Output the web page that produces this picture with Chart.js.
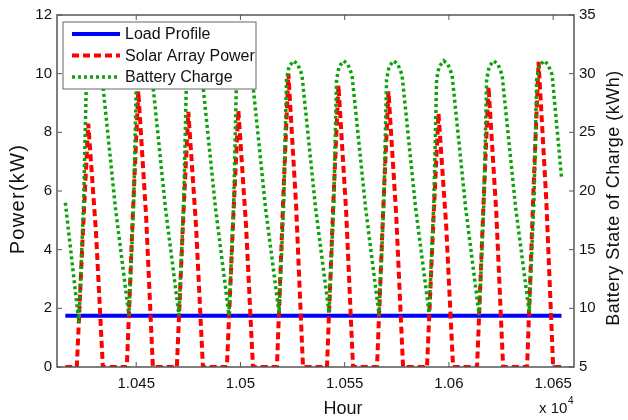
<!DOCTYPE html>
<html>
<head>
<meta charset="utf-8">
<script src="https://cdn.jsdelivr.net/npm/chart.js@4.4.1/dist/chart.umd.min.js"></script>
<style>
  html, body { margin: 0; padding: 0; background: #fff; }
  canvas { display: block; }
</style>
</head>
<body>
<canvas id="grafico" width="628" height="420"></canvas>
<script>
// dados (hora, kW / kWh)
const loadHours = [10416, 10654];
const loadKW = [1.75, 1.75];

const solarHours = [10416,
  10421.5, 10424.5, 10427, 10430.7, 10434,
  10445.5, 10448.5, 10451, 10454.7, 10458,
  10469.5, 10472.5, 10475, 10478.7, 10482,
  10493.5, 10496.5, 10499, 10502.7, 10506,
  10517.5, 10520.5, 10523, 10526.7, 10530,
  10541.5, 10544.5, 10547, 10550.7, 10554,
  10565.5, 10568.5, 10571, 10574.7, 10578,
  10589.5, 10592.5, 10595, 10598.7, 10602,
  10613.5, 10616.5, 10619, 10622.7, 10626,
  10637.5, 10640.5, 10643, 10646.7, 10650,
  10654];
const solarKW = [0,
  0, 4.7, 8.3, 4.6, 0,
  0, 5.4, 9.4, 5.2, 0,
  0, 5.0, 8.7, 4.8, 0,
  0, 5.0, 8.75, 4.8, 0,
  0, 5.7, 10.0, 5.5, 0,
  0, 5.5, 9.6, 5.3, 0,
  0, 5.4, 9.4, 5.2, 0,
  0, 4.9, 8.65, 4.8, 0,
  0, 5.4, 9.55, 5.3, 0,
  0, 5.9, 10.4, 5.7, 0,
  0];

const batteryHours = [10416,
  10422.5, 10424.8, 10426.1, 10427.3, 10429.5, 10431.5, 10433.5, 10440,
  10446.5, 10448.8, 10450.1, 10451.3, 10453.5, 10455.5, 10457.5, 10464,
  10470.5, 10472.8, 10474.1, 10475.3, 10477.5, 10479.5, 10481.5, 10488,
  10494.5, 10496.8, 10498.1, 10499.3, 10501.5, 10503.5, 10505.5, 10512,
  10518.5, 10520.8, 10522.1, 10523.3, 10525.5, 10527.5, 10529.5, 10536,
  10542.5, 10544.8, 10546.1, 10547.3, 10549.5, 10551.5, 10553.5, 10560,
  10566.5, 10568.8, 10570.1, 10571.3, 10573.5, 10575.5, 10577.5, 10584,
  10590.5, 10592.8, 10594.1, 10595.3, 10597.5, 10599.5, 10601.5, 10608,
  10614.5, 10616.8, 10618.1, 10619.3, 10621.5, 10623.5, 10625.5, 10632,
  10638.5, 10640.8, 10642.1, 10643.3, 10645.5, 10647.5, 10649.5, 10654];
const batteryKWh = [19.0,
  8.8, 19.2, 29.5, 30.6, 31.1, 30.8, 29.9, 18.6,
  9.4, 19.2, 29.5, 30.6, 31.1, 30.8, 29.9, 18.6,
  9.4, 19.2, 29.5, 30.6, 31.1, 30.8, 29.9, 18.6,
  9.4, 19.2, 29.5, 30.6, 31.1, 30.8, 29.9, 18.6,
  9.6, 19.2, 29.5, 30.6, 31.1, 30.8, 29.9, 18.6,
  9.6, 19.2, 29.5, 30.6, 31.1, 30.8, 29.9, 18.6,
  9.4, 19.2, 29.5, 30.6, 31.1, 30.8, 29.9, 18.6,
  9.6, 19.2, 29.5, 30.6, 31.1, 30.8, 29.9, 18.6,
  9.4, 19.2, 29.5, 30.6, 31.1, 30.8, 29.9, 18.6,
  9.7, 19.2, 29.5, 30.6, 31.1, 30.8, 29.9, 21.2];

const xTickValues = [10450, 10500, 10550, 10600, 10650];
const xTickLabels = ['1.045', '1.05', '1.055', '1.06', '1.065'];

const seriesNames = ['Load Profile', 'Solar Array Power', 'Battery Charge'];
const cores = ['#0000ff', '#ff0000', '#0aa30a'];

const fonte = "'Liberation Sans', Arial, Helvetica, sans-serif";
Chart.defaults.font.family = fonte;
Chart.defaults.color = '#111';

function pontos(xs, ys) {
    return xs.map((x, i) => ({ x: x, y: ys[i] }));
}

// moldura, ticks para dentro, legenda e títulos
const extras = {
    id: 'extras',
    afterDatasetsDraw(chart) {
        const ctx = chart.ctx;
        const a = chart.chartArea;
        const sx = chart.scales.x, sy = chart.scales.y, sy1 = chart.scales.y1;
        ctx.save();
        ctx.strokeStyle = '#555';
        ctx.lineWidth = 1.5;
        ctx.strokeRect(a.left, a.top, a.right - a.left, a.bottom - a.top);

        ctx.lineWidth = 1;
        ctx.beginPath();
        sx.ticks.forEach(t => {
            const px = sx.getPixelForValue(t.value);
            ctx.moveTo(px, a.bottom); ctx.lineTo(px, a.bottom - 5);
            ctx.moveTo(px, a.top); ctx.lineTo(px, a.top + 5);
        });
        sy.ticks.forEach(t => {
            const py = sy.getPixelForValue(t.value);
            ctx.moveTo(a.left, py); ctx.lineTo(a.left + 5, py);
        });
        sy1.ticks.forEach(t => {
            const py = sy1.getPixelForValue(t.value);
            ctx.moveTo(a.right, py); ctx.lineTo(a.right - 5, py);
        });
        ctx.stroke();

        // legenda
        const lx = a.left + 6, ly = a.top + 7, lw = 193, lh = 67;
        ctx.fillStyle = '#fff';
        ctx.fillRect(lx, ly, lw, lh);
        ctx.strokeStyle = '#666';
        ctx.strokeRect(lx, ly, lw, lh);
        const estilos = [
            { w: 4, dash: [] },
            { w: 4, dash: [7, 4] },
            { w: 3.5, dash: [3, 3] }
        ];
        seriesNames.forEach((nome, i) => {
            const y = ly + 12 + i * 21.5;
            ctx.beginPath();
            ctx.setLineDash(estilos[i].dash);
            ctx.lineWidth = estilos[i].w;
            ctx.strokeStyle = cores[i];
            ctx.moveTo(lx + 9, y); ctx.lineTo(lx + 57, y);
            ctx.stroke();
            ctx.setLineDash([]);
            ctx.fillStyle = '#111';
            ctx.font = '16px ' + fonte;
            ctx.textAlign = 'left';
            ctx.textBaseline = 'middle';
            ctx.fillText(nome, lx + 62, y + 1);
        });

        // títulos dos eixos
        ctx.fillStyle = '#111';
        ctx.textAlign = 'center';
        ctx.textBaseline = 'middle';
        ctx.font = '18px ' + fonte;
        ctx.fillText('Hour', 343, 409);

        ctx.save();
        ctx.translate(18, 199);
        ctx.rotate(-Math.PI / 2);
        ctx.font = '20px ' + fonte;
        ctx.letterSpacing = '1.3px';
        ctx.fillText('Power(kW)', 0, 0);
        ctx.restore();

        ctx.save();
        ctx.translate(614, 198);
        ctx.rotate(-Math.PI / 2);
        ctx.font = '18px ' + fonte;
        ctx.letterSpacing = '0.5px';
        ctx.fillText('Battery State of Charge (kWh)', 0, 0);
        ctx.restore();

        ctx.textAlign = 'left';
        ctx.font = '15px ' + fonte;
        ctx.fillText('x 10', 539, 409);
        ctx.font = '10px ' + fonte;
        ctx.fillText('4', 568, 401);
        ctx.restore();
    }
};

new Chart(document.getElementById('grafico'), {
    type: 'line',
    data: {
        datasets: [
            {
                label: seriesNames[0],
                data: pontos(loadHours, loadKW),
                borderColor: cores[0],
                borderWidth: 4,
                yAxisID: 'y',
                order: 3
            },
            {
                label: seriesNames[1],
                data: pontos(solarHours, solarKW),
                borderColor: cores[1],
                borderWidth: 4,
                borderDash: [7, 4],
                yAxisID: 'y',
                order: 2
            },
            {
                label: seriesNames[2],
                data: pontos(batteryHours, batteryKWh),
                borderColor: cores[2],
                borderWidth: 3.5,
                borderDash: [3, 3],
                yAxisID: 'y1',
                order: 1
            }
        ]
    },
    options: {
        responsive: false,
        animation: false,
        events: [],
        elements: { point: { radius: 0 }, line: { tension: 0, fill: false } },
        layout: { padding: { top: 15, left: 0, right: 0, bottom: 0 } },
        plugins: { legend: { display: false }, tooltip: { enabled: false } },
        scales: {
            x: {
                type: 'linear',
                min: 10412,
                max: 10660,
                grid: { display: false, drawTicks: false },
                border: { display: false },
                afterBuildTicks: s => { s.ticks = xTickValues.map(v => ({ value: v })); },
                afterFit: s => { s.height = 53; },
                ticks: {
                    autoSkip: false,
                    maxRotation: 0,
                    padding: 8,
                    font: { size: 15 },
                    callback: (v, i) => xTickLabels[i]
                }
            },
            y: {
                position: 'left',
                min: 0,
                max: 12,
                grid: { display: false, drawTicks: false },
                border: { display: false },
                afterFit: s => { s.width = 57; },
                ticks: { stepSize: 2, padding: 5, font: { size: 15 } }
            },
            y1: {
                position: 'right',
                min: 5,
                max: 35,
                grid: { display: false, drawTicks: false },
                border: { display: false },
                afterFit: s => { s.width = 54; },
                ticks: { stepSize: 5, padding: 5, font: { size: 15 } }
            }
        }
    },
    plugins: [extras]
});
</script>
</body>
</html>
